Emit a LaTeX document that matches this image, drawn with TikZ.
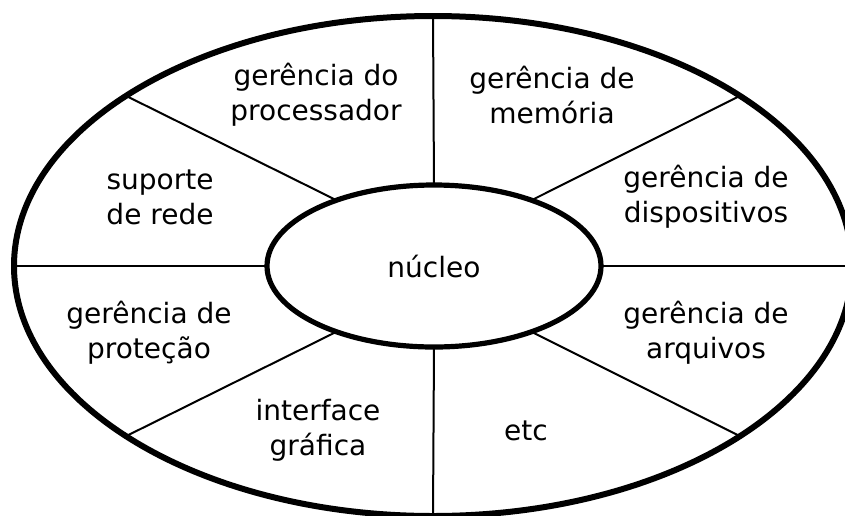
\documentclass[tikz,border=0pt]{standalone}
\usepackage{fontspec}
\setmainfont{DejaVu Sans}
\usepackage{tikz}
\usetikzlibrary{shapes,positioning}
\tikzset{camada/.style={align=center,font=\fontsize{14}{17.5}\selectfont},
  borda/.style={ellipse,draw,outer sep=0pt,inner sep=0pt}}

\begin{document}
\begin{tikzpicture}[x=0.5pt,y=-0.5pt]

    \useasboundingbox (0,0) rectangle (845,515);

	\node [borda, line width=3pt, minimum width=419pt, minimum height=250pt] (anel) at (433,266) {};
	\node [borda, camada, line width=2.6pt, minimum width=167pt, minimum height=81pt] (nucleo) at (434,266) {n\'ucleo};

	\draw [line width=1pt] (nucleo.north) -- (anel.north);
	\draw [line width=1pt] (nucleo.south) -- (anel.south);
	\draw [line width=1pt] (nucleo.west) -- (anel.west);
	\draw [line width=1pt] (nucleo.east) -- (anel.east);
	\draw [line width=1pt] (nucleo.146) -- (anel.151);
	\draw [line width=1pt] (nucleo.34) -- (anel.29);
	\draw [line width=1pt] (nucleo.214) -- (anel.209);
	\draw [line width=1pt] (nucleo.326) -- (anel.331);


	\node [camada] (proc) at (316,95) {gerência do\\processador};
	\node [camada] (mem) at (552,95) {gerência de\\memória};
	\node [camada] (rede) at (160,197) {suporte\\de rede};
	\node [camada] (disp) at (706,197) {gerência de\\dispositivos};
	\node [camada] (prot) at (149,333) {gerência de\\proteção};
	\node [camada] (arq) at (706,333) {gerência de\\arquivos};
	\node [camada] (graf) at (318,430) {interface\\gráfica};
	\node [camada] (etc) at (526,431) {etc};


    \end{tikzpicture}
\end{document}
